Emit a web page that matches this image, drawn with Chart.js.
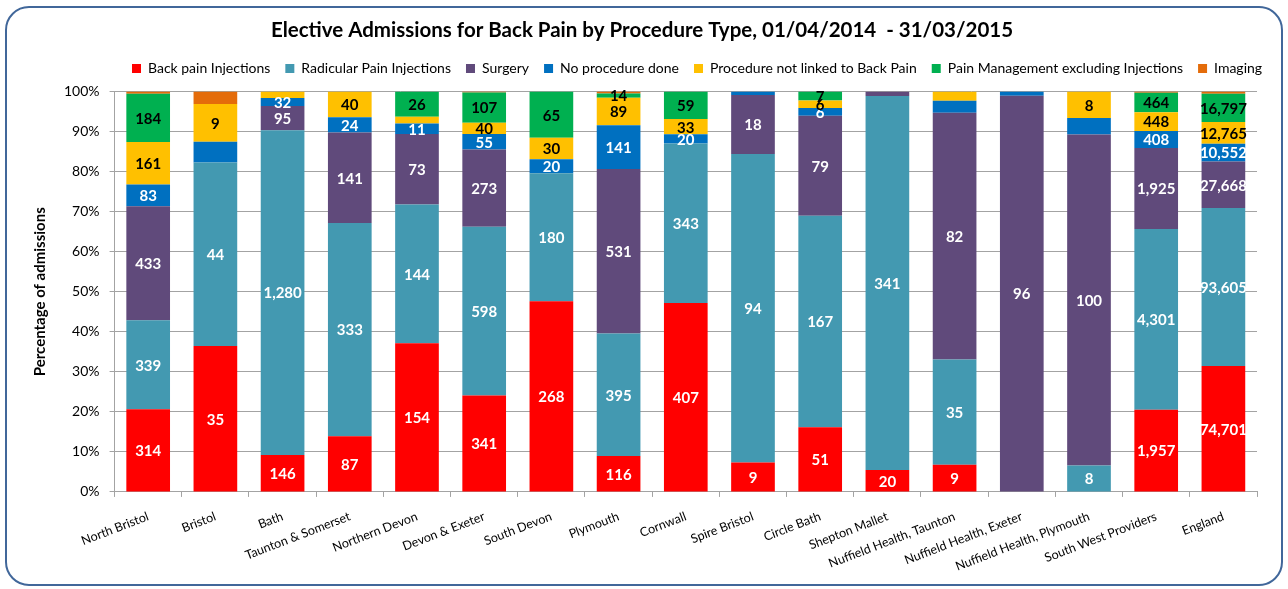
<!DOCTYPE html>
<html>
<head>
<meta charset="utf-8">
<script src="https://cdn.jsdelivr.net/npm/chart.js@4.4.1/dist/chart.umd.min.js"></script>
<style>
  html, body { margin: 0; padding: 0; background: #fff; }
  #frame {
    position: absolute; left: 5px; top: 6px; width: 1278px; height: 580px;
    box-sizing: border-box; border: 2px solid #41679A; border-radius: 24px;
    background: #fff; overflow: hidden;
  }
</style>
</head>
<body>
<div id="frame"><canvas id="chart" width="1274" height="576"></canvas></div>
<script>
const categories = ['North Bristol', 'Bristol', 'Bath', 'Taunton & Somerset', 'Northern Devon', 'Devon & Exeter',
    'South Devon', 'Plymouth', 'Cornwall', 'Spire Bristol', 'Circle Bath', 'Shepton Mallet',
    'Nuffield Health, Taunton', 'Nuffield Health, Exeter', 'Nuffield Health, Plymouth', 'South West Providers', 'England'];

const backPainInjections = [314, 35, 146, 87, 154, 341, 268, 116, 407, 9, 51, 20, 9, 0, 0, 1957, 74701];
const radicularInjections = [339, 44, 1280, 333, 144, 598, 180, 395, 343, 94, 167, 341, 35, 0, 8, 4301, 93605];
const surgery = [433, 0, 95, 141, 73, 273, 0, 531, 0, 18, 79, 4, 82, 96, 100, 1925, 27668];
const noProcedure = [83, 5, 32, 24, 11, 55, 20, 141, 20, 1, 6, 0, 4, 1, 5, 408, 10552];
const notLinked = [161, 9, 25, 40, 7, 40, 30, 89, 33, 0, 6, 0, 3, 0, 8, 448, 12765];
const painManagement = [184, 0, 0, 0, 26, 107, 65, 14, 59, 0, 7, 0, 0, 0, 0, 464, 16797];
const imaging = [8, 3, 0, 0, 0, 3, 0, 6, 0, 0, 0, 0, 0, 0, 0, 25, 1300];

const yTicks = [0, 10, 20, 30, 40, 50, 60, 70, 80, 90, 100];

// segments whose count label was left off in the original ("series:category")
const unlabelled = ['6:0', '3:1', '6:1', '4:2', '4:4', '6:5', '6:7', '3:9', '2:11', '3:12', '4:12', '3:13', '3:14', '6:15', '6:16'];

const series = [
    { label: 'Back pain Injections', counts: backPainInjections, colour: '#FF0000', text: '#FFFFFF' },
    { label: 'Radicular Pain Injections', counts: radicularInjections, colour: '#4399B1', text: '#FFFFFF' },
    { label: 'Surgery', counts: surgery, colour: '#604A7B', text: '#FFFFFF' },
    { label: 'No procedure done', counts: noProcedure, colour: '#0070C0', text: '#FFFFFF' },
    { label: 'Procedure not linked to Back Pain', counts: notLinked, colour: '#FFC000', text: '#000000' },
    { label: 'Pain Management excluding Injections', counts: painManagement, colour: '#00B050', text: '#000000' },
    { label: 'Imaging', counts: imaging, colour: '#E46C0A', text: '#000000' }
];

const totals = categories.map((c, j) => series.reduce((sum, s) => sum + s.counts[j], 0));

const FONT = 'Lato, "Open Sans", sans-serif';
const GRID = '#A3A3A3';

const segmentLabels = {
    id: 'segmentLabels',
    afterDatasetsDraw(chart) {
        const ctx = chart.ctx;
        ctx.save();
        ctx.font = 'bold 15px ' + FONT;
        ctx.textAlign = 'center';
        ctx.textBaseline = 'middle';
        chart.data.datasets.forEach((ds, i) => {
            const meta = chart.getDatasetMeta(i);
            meta.data.forEach((bar, j) => {
                const n = series[i].counts[j];
                if (!n || unlabelled.includes(i + ':' + j)) return;
                const p = bar.getProps(['x', 'y', 'base'], true);
                ctx.fillStyle = series[i].text;
                ctx.fillText(n.toLocaleString('en-GB'), p.x, (p.y + p.base) / 2 + 1);
            });
        });
        ctx.restore();
    }
};

// legend sits a little right of centre and needs a gap above the plot
const legendPlacement = {
    id: 'legendPlacement',
    beforeInit(chart) {
        const fit = chart.legend.fit;
        chart.legend.fit = function () {
            fit.call(this);
            this.height += 6;
        };
    },
    afterLayout(chart) {
        const lg = chart.legend;
        lg.left = 110;
        lg.right = lg.left + lg.width + 100;
    }
};

new Chart(document.getElementById('chart'), {
    type: 'bar',
    data: {
        labels: categories,
        datasets: series.map(s => ({
            label: s.label,
            data: s.counts.map((v, j) => v / totals[j] * 100),
            backgroundColor: s.colour,
            borderWidth: 0,
            barPercentage: 0.65,
            categoryPercentage: 1
        }))
    },
    options: {
        responsive: false,
        animation: false,
        layout: { padding: { top: 0, left: 20, right: 24, bottom: -2 } },
        scales: {
            x: {
                stacked: true,
                grid: { drawOnChartArea: false, drawTicks: true, tickLength: 5, color: GRID },
                border: { color: GRID },
                ticks: {
                    autoSkip: false, minRotation: 21, maxRotation: 21, padding: 12,
                    color: '#000', font: { family: FONT, size: 12.5 }
                }
            },
            y: {
                stacked: true,
                min: 0,
                max: 100,
                afterBuildTicks(axis) { axis.ticks = yTicks.map(v => ({ value: v })); },
                grid: { color: GRID, tickLength: 5 },
                border: { color: GRID },
                ticks: {
                    padding: 10, color: '#000', font: { family: FONT, size: 14 },
                    callback: v => v + '%'
                },
                title: {
                    display: true, text: 'Percentage of admissions', color: '#000',
                    font: { family: FONT, size: 15, weight: 'bold' },
                    padding: { top: 4, bottom: 5 }
                }
            }
        },
        plugins: {
            title: {
                display: true,
                text: 'Elective Admissions for Back Pain by Procedure Type, 01/04/2014  - 31/03/2015',
                color: '#000',
                font: { family: FONT, size: 20.5, weight: 'bold' },
                padding: { top: 10, bottom: 4 }
            },
            legend: {
                align: 'start',
                labels: {
                    boxWidth: 9, boxHeight: 9, padding: 15, color: '#000',
                    font: { family: FONT, size: 14 }
                }
            },
            tooltip: { enabled: false }
        }
    },
    plugins: [segmentLabels, legendPlacement]
});
</script>
</body>
</html>
